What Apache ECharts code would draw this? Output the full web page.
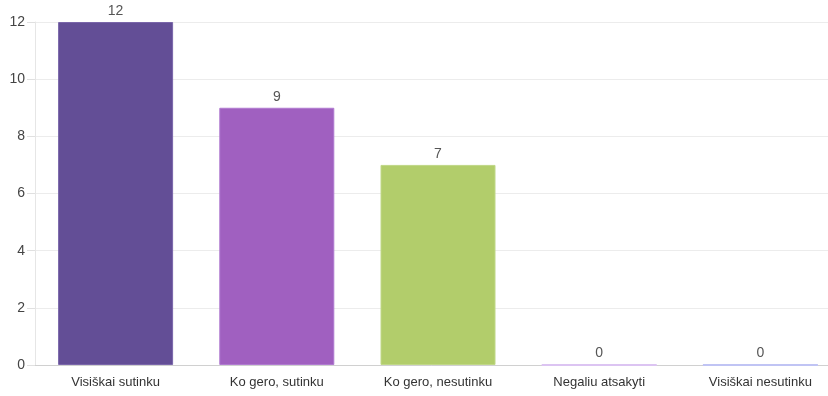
<!DOCTYPE html>
<html><head><meta charset="utf-8">
<script src="https://cdn.jsdelivr.net/npm/echarts@6/dist/echarts.min.js"></script>
<style>html,body{margin:0;padding:0;background:#fff}#c{width:828px;height:396px}</style>
</head><body><div id="c"></div>
<script>
const categories = ["Visiškai sutinku", "Ko gero, sutinku", "Ko gero, nesutinku", "Negaliu atsakyti", "Visiškai nesutinku"];
const values = [12, 9, 7, 0, 0];
const barColors = ["#634e96", "#a060c0", "#b2cd6b", "#dcc4f2", "#c0c4f4"];
const borderColors = ["#7a66aa", "#b07ad0", "#c0d888", "#dcc4f2", "#c0c4f4"];
const yTicks = [0, 2, 4, 6, 8, 10, 12];

const chart = echarts.init(document.getElementById('c'), null, {renderer: 'canvas'});
chart.setOption({
  animation: false,
  grid: {left: 35, width: 806, top: 22, bottom: 31, containLabel: false, outerBoundsMode: 'none'},
  xAxis: {
    type: 'category', data: categories,
    axisLine: {show: true, lineStyle: {color: '#d0d0d0', width: 1}},
    axisTick: {show: false},
    axisLabel: {color: '#333', fontFamily: 'Liberation Sans, Arial', fontSize: 13, margin: 11}
  },
  yAxis: {
    type: 'value', min: yTicks[0], max: yTicks[yTicks.length - 1], interval: 2,
    axisLine: {show: true, lineStyle: {color: '#e6e6e6'}},
    axisTick: {show: true, length: 8, lineStyle: {color: '#e0e0e0'}},
    splitLine: {show: true, lineStyle: {color: '#ececec'}},
    axisLabel: {color: '#444', fontFamily: 'Liberation Sans, Arial', fontSize: 14, margin: 10}
  },
  series: [{
    type: 'bar', barWidth: 115,
    data: values.map((v, i) => ({
      value: v,
      itemStyle: {color: barColors[i], borderColor: borderColors[i], borderWidth: v === 0 ? 2 : 1}
    })),
    label: {show: true, position: 'top', color: '#555', fontFamily: 'Liberation Sans, Arial', fontSize: 14, distance: 4}
  }]
});
</script></body></html>
